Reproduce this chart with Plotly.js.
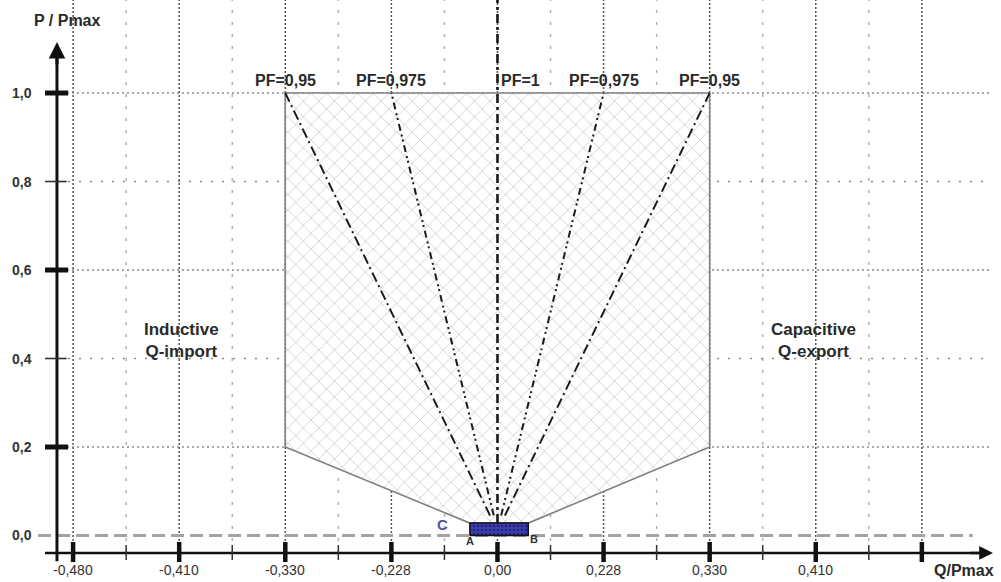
<!DOCTYPE html>
<html>
<head>
<meta charset="utf-8">
<script src="https://cdn.plot.ly/plotly-3.0.1.min.js"></script>
<style>html,body{margin:0;padding:0;background:#fff;}#chart{width:1001px;height:582px;}</style>
</head>
<body>
<div id="chart"></div>
<script>
// ---- data ----
const xTickVals = [-4, -3, -2, -1, 0, 1, 2, 3, 4];
const xTickText = ['-0,480', '-0,410', '-0,330', '-0,228', '0,00', '0,228', '0,330', '0,410', ''];
const xMinorVals = [-3.5, -2.5, -1.5, -0.5, 0.5, 1.5, 2.5, 3.5];
const yTickVals = [0, 0.2, 0.4, 0.6, 0.8, 1.0];
const yTickText = ['0,0', '0,2', '0,4', '0,6', '0,8', '1,0'];
const yMajorVals = [0.2, 0.6, 1.0];
const yMinorVals = [0.4, 0.8];

// operating region (Q/Pmax in tick units, P/Pmax)
const regionQ = [-2, 2, 2, 0.29, -0.26, -2, -2];
const regionP = [1.0, 1.0, 0.2, 0.028, 0.028, 0.2, 1.0];
// small area A-B-C
const rectQ = [-0.26, 0.29, 0.29, -0.26, -0.26];
const rectP = [0, 0, 0.028, 0.028, 0];
// power-factor lines
const pfLabels = ['PF=0,95', 'PF=0,975', 'PF=1', 'PF=0,975', 'PF=0,95'];
const pfTopQ = [-2, -1, 0, 1, 2];
const pfTopP = [1.0, 1.0, 1.21, 1.0, 1.0];
const pfBottomQ = [-0.07, -0.035, 0, 0.035, 0.07];
const pfBottomP = [0.045, 0.045, 0.028, 0.045, 0.045];

// ---- geometry helpers (axis placement) ----
const yAxisQ = -4.152;   // where vertical axis stands
const xAxisP = -0.0395;  // where horizontal axis runs
const gridTopP = 1.21;
const gridRightQ = 4.64;

const fontFam = '"Liberation Sans", Arial, sans-serif';
const txtCol = '#2a2a2a';

const traces = [];
traces.push({
  x: regionQ, y: regionP, mode: 'lines', fill: 'toself',
  fillcolor: '#ffffff',
  fillpattern: {shape: 'x', bgcolor: '#ffffff', fgcolor: '#c4c4c4', size: 11, solidity: 0.12},
  line: {color: '#808080', width: 1.6}, hoverinfo: 'skip', showlegend: false
});
const pfDash = ['10px,4px,2px,4px', '7px,4px,2px,3px,2px,4px', '9px,4px,3px,4px', '7px,4px,2px,3px,2px,4px', '10px,4px,2px,4px'];
const pfWidth = [2, 2, 2.6, 2, 2];
for (let i = 0; i < pfLabels.length; i++) {
  traces.push({
    x: [pfBottomQ[i], pfTopQ[i]], y: [pfBottomP[i], pfTopP[i]], mode: 'lines',
    line: {color: '#1a1a1a', width: pfWidth[i], dash: pfDash[i]},
    hoverinfo: 'skip', showlegend: false
  });
}
traces.push({
  x: rectQ, y: rectP, mode: 'lines', fill: 'toself', fillcolor: '#3d3db8',
  fillpattern: {shape: '.', bgcolor: '#3d3db8', fgcolor: '#22226e', size: 4, solidity: 0.35},
  line: {color: '#111', width: 1.5}, hoverinfo: 'skip', showlegend: false
});

const shapes = [];
// vertical grid lines
xTickVals.forEach(v => shapes.push({type: 'line', layer: 'below', x0: v, x1: v, y0: xAxisP, y1: gridTopP,
  line: {color: '#555', width: 1.5, dash: '2px,2px'}}));
xMinorVals.forEach(v => shapes.push({type: 'line', layer: 'below', x0: v, x1: v, y0: xAxisP, y1: gridTopP,
  line: {color: '#b0b0b0', width: 1.5, dash: '3px,9px'}}));
// horizontal grid lines
yMajorVals.forEach(v => shapes.push({type: 'line', layer: 'below', x0: yAxisQ, x1: gridRightQ, y0: v, y1: v,
  line: {color: '#8a8a8a', width: 1.5, dash: '2px,3px'}}));
yMinorVals.forEach(v => shapes.push({type: 'line', layer: 'below', x0: yAxisQ, x1: gridRightQ, y0: v, y1: v,
  line: {color: '#8a8a8a', width: 1.5, dash: '2px,9px'}}));
// P = 0 dashed line
shapes.push({type: 'line', layer: 'below', x0: -4.33, x1: 4.48, y0: 0, y1: 0,
  line: {color: '#a3a3a3', width: 3, dash: '13px,6px'}});
// axes
shapes.push({type: 'line', layer: 'above', x0: -4.265, x1: 4.6, y0: xAxisP, y1: xAxisP, line: {color: '#111', width: 2.5}});
shapes.push({type: 'line', layer: 'above', x0: yAxisQ, x1: yAxisQ, y0: -0.058, y1: 1.1, line: {color: '#111', width: 3}});
// x ticks
xTickVals.forEach(v => shapes.push({type: 'line', layer: 'above', x0: v, x1: v, y0: -0.0147, y1: -0.06, line: {color: '#111', width: 4.5}}));
xMinorVals.forEach(v => shapes.push({type: 'line', layer: 'above', x0: v, x1: v, y0: -0.0215, y1: -0.0554, line: {color: '#333', width: 1.5}}));
// y ticks
yMajorVals.forEach(v => shapes.push({type: 'line', layer: 'above', x0: -4.265, x1: -4.047, y0: v, y1: v, line: {color: '#111', width: 5}}));
yMinorVals.forEach(v => shapes.push({type: 'line', layer: 'above', x0: -4.265, x1: -4.06, y0: v, y1: v, line: {color: '#333', width: 1.6}}));

const annotations = [];
// arrows
annotations.push({x: 4.67, y: xAxisP, ax: -24, ay: 0, text: '', showarrow: true, arrowhead: 2, arrowsize: 1.1, arrowwidth: 2.5, arrowcolor: '#111'});
annotations.push({x: yAxisQ, y: 1.115, ax: 0, ay: 24, text: '', showarrow: true, arrowhead: 2, arrowsize: 1.1, arrowwidth: 3, arrowcolor: '#111'});
// x tick labels
xTickVals.forEach((v, i) => annotations.push({x: v, y: xAxisP, yshift: -7, yanchor: 'top', xanchor: 'center',
  text: xTickText[i], showarrow: false, font: {family: fontFam, size: 14, color: '#333'}}));
// y tick labels
yTickVals.forEach((v, i) => annotations.push({x: yAxisQ, y: v, xshift: -23, xanchor: 'right', yanchor: 'middle',
  text: '<b>' + yTickText[i] + '</b>', showarrow: false, font: {family: fontFam, size: 14, color: '#333'}}));
// axis titles
annotations.push({x: yAxisQ, y: 1.14, xshift: -25, xanchor: 'left', yanchor: 'bottom', text: '<b>P / Pmax</b>',
  showarrow: false, font: {family: fontFam, size: 16, color: txtCol}});
annotations.push({x: 4.7, y: xAxisP, yshift: -7, xanchor: 'right', yanchor: 'top', text: '<b>Q/Pmax</b>',
  showarrow: false, font: {family: fontFam, size: 16, color: txtCol}});
// PF labels
pfLabels.forEach((t, i) => {
  const isUnity = pfTopQ[i] === 0;
  annotations.push({x: pfTopQ[i], y: 1.0, yshift: 2, xshift: isUnity ? 2 : 0, xanchor: isUnity ? 'left' : 'center', yanchor: 'bottom',
    text: '<b>' + t + '</b>', showarrow: false, font: {family: fontFam, size: 16, color: txtCol}});
});
// region captions
annotations.push({x: -2.98, y: 0.44, text: '<b>Inductive<br>Q-import</b>', showarrow: false, align: 'center',
  font: {family: fontFam, size: 17, color: txtCol}});
annotations.push({x: 2.98, y: 0.44, text: '<b>Capacitive<br>Q-export</b>', showarrow: false, align: 'center',
  font: {family: fontFam, size: 17, color: txtCol}});
// corner letters
annotations.push({x: rectQ[0], y: 0, xanchor: 'center', yanchor: 'top', yshift: 2, text: '<b>A</b>', showarrow: false,
  font: {family: fontFam, size: 11, color: '#333'}});
annotations.push({x: rectQ[1], y: 0, xanchor: 'left', yanchor: 'top', yshift: 4, xshift: 0, text: '<b>B</b>', showarrow: false,
  font: {family: fontFam, size: 11, color: '#333'}});
annotations.push({x: rectQ[0], y: rectP[2], xanchor: 'right', yanchor: 'middle', xshift: -20, yshift: -1, text: '<b>C</b>', showarrow: false,
  font: {family: fontFam, size: 15, color: '#5650a6'}});

const layout = {
  width: 1001, height: 582,
  margin: {l: 0, r: 0, t: 0, b: 0, autoexpand: false},
  paper_bgcolor: '#fff', plot_bgcolor: '#fff',
  xaxis: {range: [-4.689, 4.746], visible: false, fixedrange: true},
  yaxis: {range: [-0.1051, 1.2102], visible: false, fixedrange: true},
  shapes: shapes, annotations: annotations, showlegend: false
};
Plotly.newPlot('chart', traces, layout, {staticPlot: true, displayModeBar: false});
</script>
</body>
</html>
